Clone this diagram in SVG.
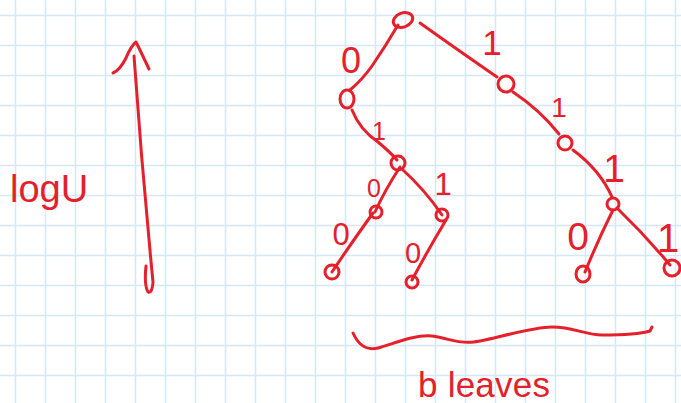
<svg xmlns="http://www.w3.org/2000/svg" width="681" height="403" viewBox="0 0 681 403">
<defs>
<pattern id="grid" x="0" y="0" width="30" height="30" patternUnits="userSpaceOnUse">
<path d="M15.5 0V30M0 15.5H30" fill="none" stroke="#d4e8f7" stroke-width="1.5"/>
</pattern>
</defs>
<style>
.ink{fill:none;stroke:#e5202b;stroke-width:3;stroke-linecap:round;stroke-linejoin:round}
.node{fill:none;stroke:#e5202b;stroke-width:3}
.lbl{fill:#e5202b;font-family:"Liberation Sans",Arial,sans-serif;text-anchor:middle}
.txt{fill:#e5202b;font-family:"Liberation Sans",Arial,sans-serif}
</style>
<rect width="681" height="403" fill="#ffffff"/>
<rect width="681" height="403" fill="url(#grid)"/>

<g id="height-arrow">
<path class="ink" d="M134 56 Q142 170 153 282 Q152 294 148 292 Q144 285 146 266"/>
<path class="ink" d="M113 73 Q120 70 126 58 Q131 46 136 42 Q141 52 149 69"/>
</g>
<text id="height-label" class="txt" x="10" y="202" font-size="38">logU</text>

<g id="connectors">
<path class="ink" d="M398 25 Q385 47 372 66 Q362 80 350 90"/>
<path class="ink" d="M420 23 Q455 48 497 77"/>
<path class="ink" d="M352 110 Q360 130 378 142 Q390 152 397 160"/>
<path class="ink" d="M513 92 Q540 110 559 134"/>
<path class="ink" d="M573 150 Q600 170 612 197"/>
<path class="ink" d="M400 167 Q385 190 375 212"/>
<path class="ink" d="M403 170 Q425 190 442 215"/>
<path class="ink" d="M373 213 Q350 245 332 272"/>
<path class="ink" d="M446 220 Q428 250 412 280"/>
<path class="ink" d="M613 210 Q598 240 585 272"/>
<path class="ink" d="M617 208 Q645 235 670 265"/>
</g>

<g id="root"><ellipse class="node" cx="403" cy="20" rx="10" ry="7" transform="rotate(-20 403 20)"/></g>
<g id="n-0"><ellipse class="node" cx="347" cy="99" rx="7" ry="9"/></g>
<g id="n-1"><circle class="node" cx="506" cy="84" r="8"/></g>
<g id="n-01"><circle class="node" cx="398" cy="163" r="7"/></g>
<g id="n-11"><circle class="node" cx="565" cy="143" r="7"/></g>
<g id="n-111"><circle class="node" cx="613" cy="204" r="6"/></g>
<g id="n-010"><circle class="node" cx="376" cy="212" r="6"/></g>
<g id="n-011"><circle class="node" cx="442" cy="215" r="6"/></g>
<g id="leaf-0100"><circle class="node" cx="332" cy="272" r="7"/></g>
<g id="leaf-0110"><circle class="node" cx="412" cy="282" r="6"/></g>
<g id="leaf-1110"><ellipse class="node" cx="583" cy="274" rx="7" ry="8"/></g>
<g id="leaf-1111"><circle class="node" cx="672" cy="268" r="8"/></g>

<g id="edge-labels">
<text class="lbl" x="351" y="73" font-size="36">0</text>
<text class="lbl" x="492" y="55" font-size="35">1</text>
<text class="lbl" x="379" y="140" font-size="25">1</text>
<text class="lbl" x="559" y="117" font-size="28">1</text>
<text class="lbl" x="614" y="182" font-size="39">1</text>
<text class="lbl" x="374" y="197" font-size="25">0</text>
<text class="lbl" x="443" y="195" font-size="31">1</text>
<text class="lbl" x="341" y="245" font-size="31">0</text>
<text class="lbl" x="413" y="263" font-size="29">0</text>
<text class="lbl" x="578" y="250" font-size="39">0</text>
<text class="lbl" x="668" y="252" font-size="40">1</text>
</g>

<g id="leaves-brace">
<path class="ink" d="M353 333 C358 344 366 351 378 348 S415 334 432 336 S456 344 474 342 S530 327 552 327 S585 335 602 335 S640 334 650 331 L652 327"/>
</g>
<text id="leaves-label" class="txt" x="418" y="397" font-size="35" textLength="132" lengthAdjust="spacing">b leaves</text>
</svg>
